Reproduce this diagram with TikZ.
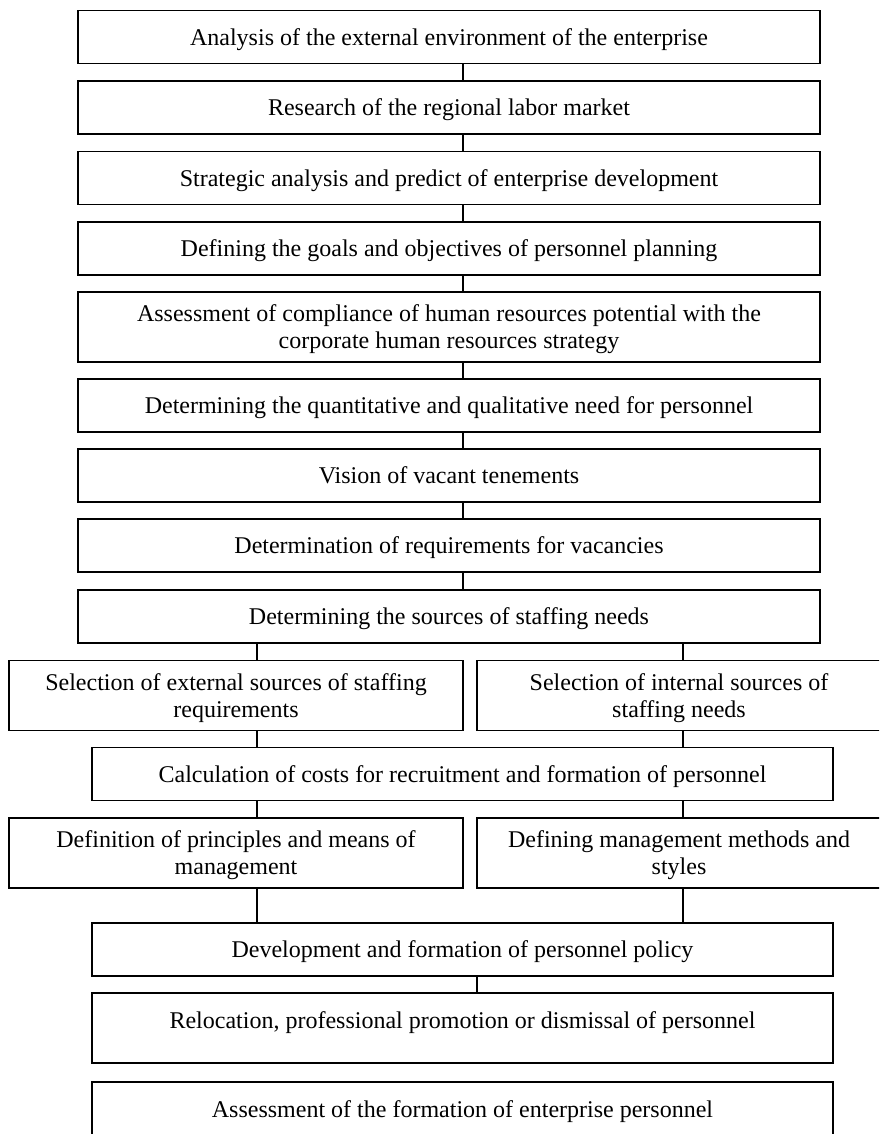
\documentclass[tikz,border=0pt]{standalone}
\usepackage{fontspec}
\setmainfont{Liberation Serif}

\tikzset{etape/.style = {draw, line width = 1.6pt, minimum width = #1,
                         minimum height = 53pt, inner sep = 0pt, align = center,
                         text depth = 0pt, font = \fontsize{24}{27}\selectfont},
         etape/.default = 742pt,
         haute/.style = {minimum height = 70pt},
         enhaut/.style = {text depth = 16.4pt},
         lien/.style = {line width = 1.6pt}
        }

\begin{document}
\begin{tikzpicture}[x=1pt, y=-1pt]
  \clip (0, 0) rectangle (879, 1134);
  \node[etape] (analyse) at (449, 37) {Analysis of the external environment of the enterprise};
  \node[etape] (marche) at (449, 107.5) {Research of the regional labor market};
  \node[etape] (strategie) at (449, 178) {Strategic analysis and predict of enterprise development};
  \node[etape] (objectifs) at (449, 248.5) {Defining the goals and objectives of personnel planning};
  \node[etape, haute] (conformite) at (449, 327) {Assessment of compliance of human resources potential with the\\corporate human resources strategy};
  \node[etape] (besoin) at (449, 405.5) {Determining the quantitative and qualitative need for personnel};
  \node[etape] (vacants) at (449, 475.5) {Vision of vacant tenements};
  \node[etape] (exigences) at (449, 545.5) {Determination of requirements for vacancies};
  \node[etape] (sources) at (449, 616.5) {Determining the sources of staffing needs};
  \node[etape = 454pt, haute] (externes) at (236, 695.5) {Selection of external sources of staffing\\requirements};
  \node[etape = 404pt, haute] (internes) at (679, 695.5) {Selection of internal sources of\\staffing needs};
  \node[etape = 741pt] (couts) at (462.5, 774) {Calculation of costs for recruitment and formation of personnel};
  \node[etape = 454pt, haute] (principes) at (236, 853) {Definition of principles and means of\\management};
  \node[etape = 404pt, haute] (methodes) at (679, 853) {Defining management methods and\\styles};
  \node[etape = 741pt] (politique) at (462.5, 949.5) {Development and formation of personnel policy};
  \node[etape = 741pt, haute, enhaut] (mutation) at (462.5, 1028) {Relocation, professional promotion or dismissal of personnel};
  \node[etape = 741pt, haute, enhaut] (evaluation) at (462.5, 1117) {Assessment of the formation of enterprise personnel};

  \foreach \a/\b in {analyse/marche, marche/strategie, strategie/objectifs,
                     objectifs/conformite, conformite/besoin, besoin/vacants,
                     vacants/exigences, exigences/sources}
    \draw[lien] ([xshift=14pt]\a.south) -- ([xshift=14pt]\b.north);
  \draw[lien] ([xshift=21pt]externes.north) -- ([xshift=21pt]externes.north |- sources.south);
  \draw[lien] ([xshift=4pt]internes.north) -- ([xshift=4pt]internes.north |- sources.south);
  \draw[lien] ([xshift=21pt]externes.south) -- ([xshift=21pt]externes.south |- couts.north);
  \draw[lien] ([xshift=4pt]internes.south) -- ([xshift=4pt]internes.south |- couts.north);
  \draw[lien] ([xshift=21pt]principes.north) -- ([xshift=21pt]principes.north |- couts.south);
  \draw[lien] ([xshift=4pt]methodes.north) -- ([xshift=4pt]methodes.north |- couts.south);
  \draw[lien] ([xshift=21pt]principes.south) -- ([xshift=21pt]principes.south |- politique.north);
  \draw[lien] ([xshift=4pt]methodes.south) -- ([xshift=4pt]methodes.south |- politique.north);
  \draw[lien] ([xshift=14.5pt]politique.south) -- ([xshift=14.5pt]mutation.north);
\end{tikzpicture}
\end{document}
